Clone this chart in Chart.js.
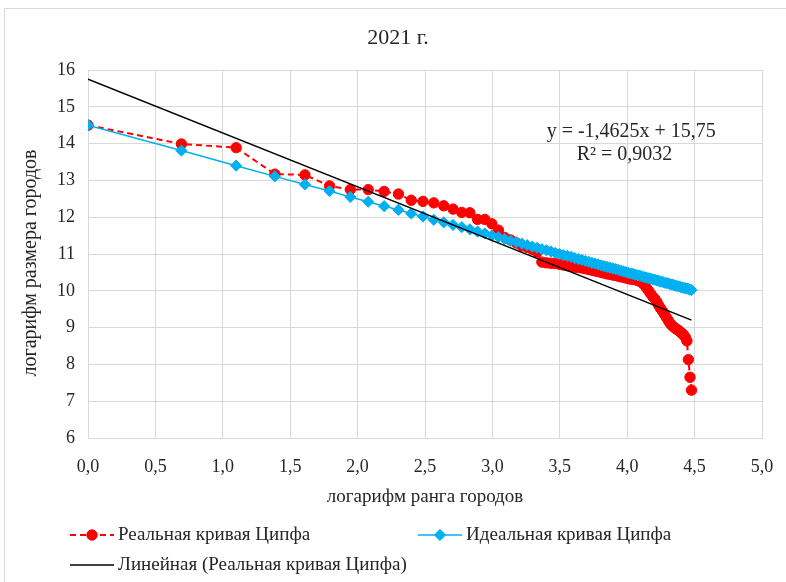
<!DOCTYPE html>
<html lang="ru">
<head>
<meta charset="utf-8">
<title>2021 г.</title>
<script src="https://cdn.jsdelivr.net/npm/chart.js@4.4.1/dist/chart.umd.min.js"></script>
<style>
  body { margin: 0; background: #fff; overflow: hidden; }
  #wrap { position: relative; width: 786px; height: 582px; }
  #frame { position: absolute; left: 4px; top: 8px; width: 800px; height: 600px; border: 1px solid #d9d9d9; }
  #chart { position: absolute; left: 0; top: 0; }
</style>
</head>
<body>
<div id="wrap"><div id="frame"></div><canvas id="chart" width="786" height="582"></canvas></div>
<script>
const FONT = "'Liberation Serif', 'Times New Roman', serif";
const TEXT = "#262626";

// x: ln(rank) of the cities, 1..88
const logRank = [
  0.000, 0.693, 1.099, 1.386, 1.609, 1.792, 1.946, 2.079, 2.197, 2.303,
  2.398, 2.485, 2.565, 2.639, 2.708, 2.773, 2.833, 2.890, 2.944, 2.996,
  3.045, 3.091, 3.135, 3.178, 3.219, 3.258, 3.296, 3.332, 3.367, 3.401,
  3.434, 3.466, 3.497, 3.526, 3.555, 3.584, 3.611, 3.638, 3.664, 3.689,
  3.714, 3.738, 3.761, 3.784, 3.807, 3.829, 3.850, 3.871, 3.892, 3.912,
  3.932, 3.951, 3.970, 3.989, 4.007, 4.025, 4.043, 4.060, 4.078, 4.094,
  4.111, 4.127, 4.143, 4.159, 4.174, 4.190, 4.205, 4.220, 4.234, 4.248,
  4.263, 4.277, 4.290, 4.304, 4.317, 4.331, 4.344, 4.357, 4.369, 4.382,
  4.394, 4.407, 4.419, 4.431, 4.443, 4.454, 4.466, 4.477
];

// y: ln(city size), real
const realSize = [
  14.50, 13.99, 13.89, 13.17, 13.15, 12.85, 12.75, 12.75, 12.70, 12.63,
  12.46, 12.43, 12.39, 12.31, 12.22, 12.13, 12.12, 11.94, 11.94, 11.82,
  11.65, 11.45, 11.38, 11.30, 11.22, 11.18, 11.12, 11.05, 10.78, 10.76,
  10.75, 10.74, 10.72, 10.70, 10.68, 10.66, 10.64, 10.63, 10.62, 10.60,
  10.58, 10.56, 10.54, 10.52, 10.50, 10.48, 10.46, 10.45, 10.43, 10.42,
  10.40, 10.38, 10.37, 10.35, 10.33, 10.32, 10.31, 10.30, 10.28, 10.26,
  10.22, 10.16, 10.08, 10.00, 9.92, 9.84, 9.78, 9.70, 9.60, 9.52,
  9.44, 9.36, 9.28, 9.20, 9.12, 9.06, 9.02, 8.98, 8.95, 8.92,
  8.88, 8.84, 8.80, 8.74, 8.64, 8.13, 7.65, 7.30
];

// y: ln(city size), ideal Zipf curve
const idealSize = [
  14.50, 13.81, 13.40, 13.11, 12.89, 12.71, 12.55, 12.42, 12.30, 12.20,
  12.10, 12.02, 11.93, 11.86, 11.79, 11.73, 11.67, 11.61, 11.56, 11.50,
  11.46, 11.41, 11.36, 11.32, 11.28, 11.24, 11.20, 11.17, 11.13, 11.10,
  11.07, 11.03, 11.00, 10.97, 10.95, 10.92, 10.89, 10.86, 10.84, 10.81,
  10.79, 10.76, 10.74, 10.72, 10.69, 10.67, 10.65, 10.63, 10.61, 10.59,
  10.57, 10.55, 10.53, 10.51, 10.49, 10.47, 10.46, 10.44, 10.42, 10.41,
  10.39, 10.37, 10.36, 10.34, 10.33, 10.31, 10.30, 10.28, 10.27, 10.25,
  10.24, 10.22, 10.21, 10.20, 10.18, 10.17, 10.16, 10.14, 10.13, 10.12,
  10.11, 10.09, 10.08, 10.07, 10.06, 10.05, 10.03, 10.02
];

// Excel linear trendline of the real curve
const trendSlope = -1.4625;
const trendIntercept = 15.75;
const trendText = ["y = -1,4625x + 15,75", "R² = 0,9032"];

const chartTitle = "2021 г.";
const xAxisTitle = "логарифм ранга городов";
const yAxisTitle = "логарифм размера городов";
const xTickLabels = ["0,0", "0,5", "1,0", "1,5", "2,0", "2,5", "3,0", "3,5", "4,0", "4,5", "5,0"];
const yTickLabels = ["6", "7", "8", "9", "10", "11", "12", "13", "14", "15", "16"];
const seriesNames = ["Реальная кривая Ципфа", "Идеальная кривая Ципфа", "Линейная (Реальная кривая Ципфа)"];

const toPoints = (ys) => ys.map((y, i) => ({ x: logRank[i], y: y }));
const trendEnds = [logRank[0], logRank[logRank.length - 1]];

// title, y title and legend drawn by hand so they sit like in Excel
const framePlugin = {
  id: "excelFrame",
  afterDraw(chart) {
    const ctx = chart.ctx;
    ctx.save();
    ctx.fillStyle = TEXT;
    ctx.textBaseline = "middle";
    ctx.textAlign = "center";
    ctx.font = "22px " + FONT;
    ctx.fillText(chartTitle, 398, 38);

    ctx.save();
    ctx.translate(31, 263);
    ctx.rotate(-Math.PI / 2);
    ctx.font = "20px " + FONT;
    ctx.fillText(yAxisTitle, 0, 0);
    ctx.restore();

    const slots = [
      { ds: 0, x: 70, y: 535 },
      { ds: 1, x: 418, y: 535 },
      { ds: 2, x: 70, y: 565 },
    ];
    ctx.font = "19px " + FONT;
    ctx.textAlign = "left";
    slots.forEach((s) => {
      const ds = chart.data.datasets[s.ds];
      ctx.strokeStyle = ds.borderColor;
      ctx.lineWidth = ds.borderWidth;
      ctx.setLineDash(ds.borderDash || []);
      ctx.beginPath();
      ctx.moveTo(s.x, s.y);
      ctx.lineTo(s.x + 44, s.y);
      ctx.stroke();
      ctx.setLineDash([]);
      if (ds.pointRadius > 0) {
        ctx.fillStyle = ds.backgroundColor;
        ctx.lineWidth = 1;
        Chart.helpers.drawPoint(ctx, { pointStyle: ds.pointStyle, radius: ds.pointRadius, borderWidth: 1 }, s.x + 22, s.y);
      }
      ctx.fillStyle = TEXT;
      ctx.fillText(ds.label, s.x + 48, s.y);
    });
    ctx.restore();
  },
};

// trendline equation label
const equationPlugin = {
  id: "equation",
  afterDatasetsDraw(chart) {
    const ctx = chart.ctx;
    const xs = chart.scales.x, ys = chart.scales.y;
    ctx.save();
    ctx.font = "20px " + FONT;
    ctx.fillStyle = TEXT;
    ctx.textAlign = "center";
    ctx.textBaseline = "middle";
    ctx.fillText(trendText[0], xs.getPixelForValue(4.03), ys.getPixelForValue(14.33));
    ctx.fillText(trendText[1], xs.getPixelForValue(3.98), ys.getPixelForValue(13.71));
    ctx.restore();
  },
};

new Chart(document.getElementById("chart"), {
  type: "scatter",
  data: {
    datasets: [
      {
        label: seriesNames[0],
        data: toPoints(realSize),
        showLine: true,
        borderColor: "#ff0000",
        backgroundColor: "#ff0000",
        borderWidth: 2,
        borderDash: [6, 4],
        pointStyle: "circle",
        pointRadius: 5.2,
        pointBorderWidth: 1,
        order: 3,
      },
      {
        label: seriesNames[1],
        data: toPoints(idealSize),
        showLine: true,
        borderColor: "#00b0f0",
        backgroundColor: "#00b0f0",
        borderWidth: 1.5,
        pointStyle: "rectRot",
        pointRadius: 5.6,
        pointBorderWidth: 1,
        order: 2,
      },
      {
        label: seriesNames[2],
        data: trendEnds.map((x) => ({ x: x, y: trendSlope * x + trendIntercept })),
        showLine: true,
        borderColor: "#000000",
        backgroundColor: "#000000",
        borderWidth: 1.5,
        pointRadius: 0,
        order: 1,
      },
    ],
  },
  options: {
    responsive: false,
    animation: false,
    layout: { padding: { left: 0, right: 24, top: 70, bottom: 70 } },
    plugins: {
      legend: { display: false },
      tooltip: { enabled: false },
      title: { display: false },
    },
    scales: {
      x: {
        type: "linear",
        min: 0,
        max: 5,
        afterBuildTicks: (scale) => {
          scale.ticks = xTickLabels.map((_, i) => ({ value: i * 0.5 }));
        },
        afterFit: (scale) => {
          scale.height = 74;
          scale.paddingLeft = 0;
          scale.paddingRight = 0;
        },
        ticks: {
          color: TEXT,
          font: { family: FONT, size: 18 },
          padding: 18,
          maxRotation: 0,
          callback: (v, i) => xTickLabels[i],
        },
        grid: { color: "#d9d9d9", drawTicks: false },
        border: { color: "#d9d9d9" },
        title: {
          display: true,
          text: xAxisTitle,
          color: TEXT,
          font: { family: FONT, size: 19 },
          padding: { top: 4, bottom: 4 },
        },
      },
      y: {
        type: "linear",
        min: 6,
        max: 16,
        afterBuildTicks: (scale) => {
          scale.ticks = yTickLabels.map((_, i) => ({ value: 6 + i }));
        },
        afterFit: (scale) => { scale.width = 88; },
        ticks: {
          color: TEXT,
          font: { family: FONT, size: 18 },
          padding: 13,
          callback: (v, i) => yTickLabels[i],
        },
        grid: { color: "#d9d9d9", drawTicks: false },
        border: { color: "#d9d9d9" },
      },
    },
  },
  plugins: [framePlugin, equationPlugin],
});
</script>
</body>
</html>
